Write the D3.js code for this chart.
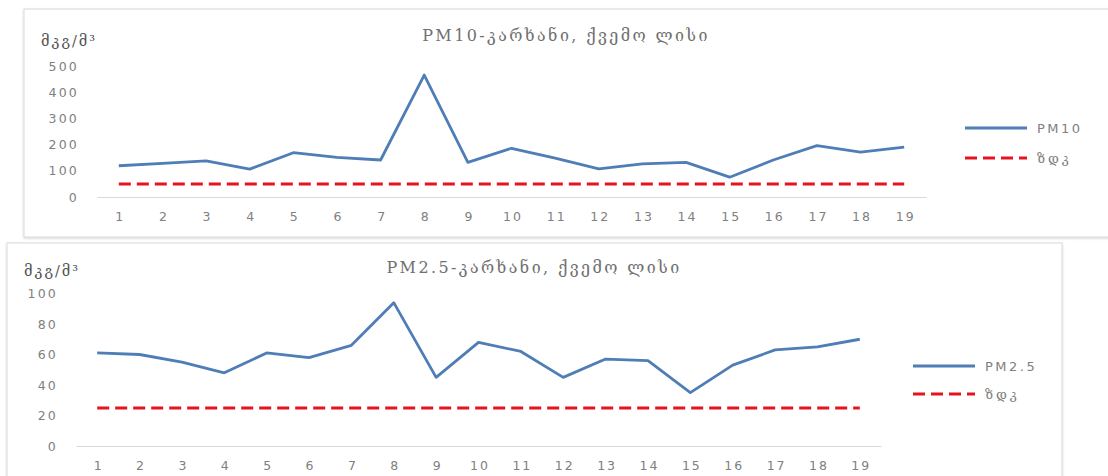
<!DOCTYPE html>
<html>
<head>
<meta charset="utf-8">
<script src="https://cdn.jsdelivr.net/npm/d3@7"></script>
<style>
  body { margin: 0; background: #fff; }
  svg { display: block; }
  .tick text { fill: #808080; }
</style>
</head>
<body>
<div id="viz"></div>
<script>
// days of the measurement period
const days = ["1", "2", "3", "4", "5", "6", "7", "8", "9", "10",
              "11", "12", "13", "14", "15", "16", "17", "18", "19"];

// PM10, µg/m³
const pm10 = [120, 129, 139, 107, 170, 152, 142, 468, 133, 187,
              149, 108, 127, 133, 76, 142, 197, 172, 191];
const pm10Limit = [50, 50, 50, 50, 50, 50, 50, 50, 50, 50,
                   50, 50, 50, 50, 50, 50, 50, 50, 50];
const pm10Ticks = [0, 100, 200, 300, 400, 500];

// PM2.5, µg/m³
const pm25 = [61, 60, 55, 48, 61, 58, 66, 94, 45, 68,
              62, 45, 57, 56, 35, 53, 63, 65, 70];
const pm25Limit = [25, 25, 25, 25, 25, 25, 25, 25, 25, 25,
                   25, 25, 25, 25, 25, 25, 25, 25, 25];
const pm25Ticks = [0, 20, 40, 60, 80, 100];

const unitLabel = "მკგ/მ³";
const limitLabel = "ზდკ";

const W = 1108, H = 476;
const blue = "#4f7db6", red = "#e3141f";
const numFont = "'DejaVu Sans', sans-serif";
const geoFont = "'DejaVu Serif', serif";

const svg = d3.select("#viz")
    .append("svg")
    .attr("width", W)
    .attr("height", H);

// shadow for the chart frames
const defs = svg.append("defs");
const f = defs.append("filter").attr("id", "shadow")
    .attr("x", "-2%").attr("y", "-2%").attr("width", "104%").attr("height", "106%");
f.append("feDropShadow").attr("dx", 0).attr("dy", 1).attr("stdDeviation", 1)
    .attr("flood-color", "#000").attr("flood-opacity", 0.18);

function drawChart(cfg) {
    const g = svg.append("g");

    g.append("rect")
        .attr("x", cfg.box[0]).attr("y", cfg.box[1])
        .attr("width", cfg.box[2]).attr("height", cfg.box[3])
        .attr("fill", "#fff")
        .attr("stroke", "#d9d9d9")
        .attr("filter", "url(#shadow)");

    const x = d3.scalePoint()
        .domain(days)
        .range(cfg.xRange)
        .padding(0.5);

    const y = d3.scaleLinear()
        .domain(cfg.yDomain)
        .range(cfg.yRange);

    // x axis
    const xAxis = g.append("g")
        .attr("transform", "translate(0," + y(0) + ")")
        .call(d3.axisBottom(x).tickSize(0).tickSizeOuter(0).tickPadding(15));
    xAxis.select(".domain").attr("stroke", "#d9d9d9").attr("stroke-width", 1.2);
    xAxis.selectAll("text")
        .style("font-family", numFont)
        .style("font-size", "12.5px")
        .style("letter-spacing", "2px")
        .attr("dx", "1px");

    // y axis
    const yAxis = g.append("g")
        .attr("transform", "translate(" + cfg.yAxisX + ",0)")
        .call(d3.axisLeft(y).tickValues(cfg.ticks).tickSize(0).tickPadding(0));
    yAxis.select(".domain").remove();
    yAxis.selectAll("text")
        .style("font-family", numFont)
        .style("font-size", "12.5px")
        .style("letter-spacing", "2.2px");

    const line = d3.line()
        .x((d, i) => x(days[i]))
        .y(d => y(d));

    g.append("path")
        .datum(cfg.limit)
        .attr("d", line)
        .attr("fill", "none")
        .attr("stroke", red)
        .attr("stroke-width", 3)
        .attr("stroke-dasharray", "12,6");

    g.append("path")
        .datum(cfg.values)
        .attr("d", line)
        .attr("fill", "none")
        .attr("stroke", blue)
        .attr("stroke-width", 2.8)
        .attr("stroke-linejoin", "round");

    // title and unit
    g.append("text")
        .attr("x", cfg.titleX).attr("y", cfg.titleY)
        .attr("text-anchor", "middle")
        .style("font-family", geoFont)
        .style("font-size", "16px")
        .style("letter-spacing", "2.4px")
        .attr("fill", "#707070")
        .text(cfg.title);

    g.append("text")
        .attr("x", cfg.unitPos[0]).attr("y", cfg.unitPos[1])
        .style("font-family", geoFont)
        .style("font-size", "14.5px")
        .style("letter-spacing", "2px")
        .attr("fill", "#555")
        .text(unitLabel);

    // legend
    const lg = g.append("g").attr("transform", "translate(" + cfg.legend[0] + "," + cfg.legend[1] + ")");
    const items = [
        {name: cfg.name, color: blue, dash: null, w: 2.8},
        {name: limitLabel, color: red, dash: "12,6", w: 3}
    ];
    items.forEach((it, i) => {
        const yy = i * cfg.legendGap;
        lg.append("line")
            .attr("x1", 0).attr("x2", 62)
            .attr("y1", yy).attr("y2", yy)
            .attr("stroke", it.color)
            .attr("stroke-width", it.w)
            .attr("stroke-dasharray", it.dash);
        lg.append("text")
            .attr("x", 72).attr("y", yy)
            .attr("dy", "0.35em")
            .style("font-family", i === 0 ? numFont : geoFont)
            .style("font-size", "13px")
            .style("letter-spacing", i === 0 ? "2.5px" : "3px")
            .attr("fill", "#808080")
            .text(it.name);
    });
}

drawChart({
    box: [24, 9, 1100, 228],
    xRange: [97, 926],
    yDomain: [0, 500],
    yRange: [197, 66.7],
    yAxisX: 79,
    ticks: pm10Ticks,
    values: pm10,
    limit: pm10Limit,
    name: "PM10",
    title: "PM10-კარხანი, ქვემო ლისი",
    titleX: 566, titleY: 41,
    unitPos: [41, 46],
    legend: [965, 128],
    legendGap: 30
});

drawChart({
    box: [7, 243, 1055, 240],
    xRange: [76, 881],
    yDomain: [0, 100],
    yRange: [446, 293.5],
    yAxisX: 58,
    ticks: pm25Ticks,
    values: pm25,
    limit: pm25Limit,
    name: "PM2.5",
    title: "PM2.5-კარხანი, ქვემო ლისი",
    titleX: 534, titleY: 273,
    unitPos: [24, 276],
    legend: [913, 366],
    legendGap: 28
});
</script>
</body>
</html>
